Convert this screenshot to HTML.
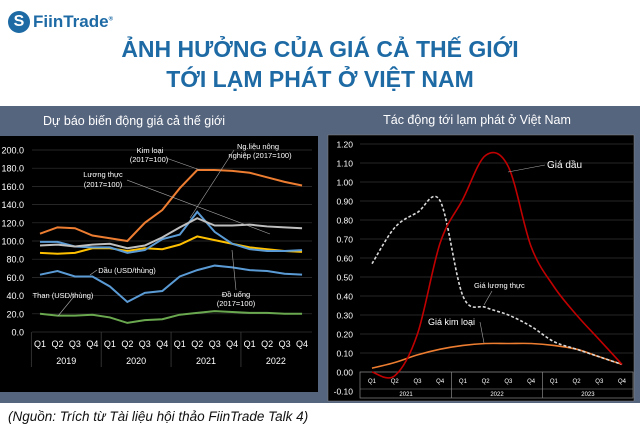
<!DOCTYPE html>
<html><head><meta charset="utf-8"><style>
body{margin:0;width:640px;height:436px;background:#fff;overflow:hidden;font-family:"Liberation Sans",sans-serif;position:relative}
.t{position:absolute;left:0;width:640px;text-align:center;color:#1d6aa5;font-weight:bold;font-size:23px}
</style></head><body>
<div style="position:absolute;left:8px;top:11px;width:22px;height:22px;border-radius:50%;background:#1d6aa5;color:#fff;font-weight:bold;font-size:16px;text-align:center;line-height:22px">S</div>
<div style="position:absolute;left:33px;top:12px;color:#1d6aa5;font-weight:bold;font-size:17px">FiinTrade<sup style="font-size:6px">®</sup></div>
<div class="t" style="top:36px">ẢNH HƯỞNG CỦA GIÁ CẢ THẾ GIỚI</div>
<div class="t" style="top:66px">TỚI LẠM PHÁT Ở VIỆT NAM</div>
<div style="position:absolute;left:8px;top:409px;font-style:italic;font-size:13.5px;color:#111">(Nguồn: Trích từ Tài liệu hội thảo FiinTrade Talk 4)</div>
<svg id="s" width="640" height="436" style="position:absolute;left:0;top:0" font-family="Liberation Sans, sans-serif">
<rect x="0" y="106" width="640" height="297" fill="#56657e"/>
<rect x="0" y="136" width="318" height="256" fill="#000"/>
<rect x="328" y="135" width="306" height="266" fill="#000" stroke="#888" stroke-width="0.5"/>
<text x="134" y="125" fill="#fff" font-size="12.5" text-anchor="middle">Dự báo biến động giá cả thế giới</text>
<text x="477" y="124" fill="#fff" font-size="12.5" text-anchor="middle">Tác động tới lạm phát ở Việt Nam</text>
<g id="L"></g><g id="R"></g>
</svg>
<script>
const quarters=["Q1","Q2","Q3","Q4"];
const yearsL=["2019","2020","2021","2022"];
const yearsR=["2021","2022","2023"];
const ticksL=[0,20,40,60,80,100,120,140,160,180,200];
const ticksR=[-0.1,0,0.1,0.2,0.3,0.4,0.5,0.6,0.7,0.8,0.9,1.0,1.1,1.2];
const kimLoai=[108,115,114,106,103,100,120,134,158,178,178,177,175,170,165,161];
const luongThuc=[95,96,94,96,97,92,95,104,115,125,117,117,118,116,115,114];
const ngLieu=[99,99,94,93,93,87,90,102,107,132,110,97,91,89,89,90];
const doUong=[87,86,87,92,92,89,92,91,96,105,101,97,93,91,89,88];
const dau=[63,67,61,61,50,33,43,45,61,68,73,71,68,67,64,63];
const than=[20,18,18,19,16,10,13,14,19,21,23,22,21,21,20,20];
const giaDau=[0.00,-0.02,0.20,0.68,0.91,1.14,1.08,0.66,0.45,0.30,0.17,0.04];
const giaLuongThuc=[0.57,0.76,0.84,0.90,0.40,0.34,0.30,0.24,0.16,0.12,0.08,0.04];
const giaKimLoai=[0.02,0.05,0.09,0.12,0.14,0.15,0.15,0.15,0.14,0.12,0.08,0.04];
const NS="http://www.w3.org/2000/svg";
function mk(p,t,a,txt){const e=document.createElementNS(NS,t);for(const k in a)e.setAttribute(k,a[k]);if(txt!=null)e.textContent=txt;p.appendChild(e);return e;}
const L=document.getElementById('L'),R=document.getElementById('R');
const xL=i=>40+i*17.47, yL=v=>332-v*0.91;
const xR=i=>372+i*22.73, yR=v=>372-v*190;
// left axes
ticksL.forEach(v=>{
 const g=mk(L,'line',{x1:32,x2:312,y1:yL(v),y2:yL(v),stroke:'#333','stroke-width':0.7});
 
 
 const t=mk(L,'text',{x:24,y:yL(v)+3.5,fill:'#fff','font-size':9,'text-anchor':'end'},v.toFixed(1));
 
 
});
yearsL.forEach((y,yi)=>{
 quarters.forEach((q,qi)=>{const t=mk(L,'text',{x:xL(yi*4+qi),y:347,fill:'#fff','font-size':9,'text-anchor':'middle'},q);
 
 });
 const t=mk(L,'text',{x:(xL(yi*4)+xL(yi*4+3))/2,y:364,fill:'#fff','font-size':9,'text-anchor':'middle'},y);
 
 
 const s=mk(L,'line',{x1:xL(yi*4)-8.7,x2:xL(yi*4)-8.7,y1:332,y2:367,stroke:'#444','stroke-width':0.7});
 
 
});
function polyL(arr,col,name){const p=mk(L,'polyline',{points:arr.map((v,i)=>xL(i)+','+yL(v)).join(' '),fill:'none',stroke:col,'stroke-width':2});
 
 }
polyL(than,'#6aa84f','series-than');
polyL(dau,'#5b9bd5','series-dau');
polyL(doUong,'#ffc000','series-do-uong');
polyL(ngLieu,'#5b9bd5','series-ng-lieu');
polyL(luongThuc,'#bfbfbf','series-luong-thuc');
polyL(kimLoai,'#ed7d31','series-kim-loai');
const lblL=[["Kim loại",150,153],["(2017=100)",149,162],["Lương thực",103,177],["(2017=100)",103,187],["Ng.liệu nông",258,149],["nghiệp (2017=100)",260,158],["Dầu (USD/thùng)",127,273],["Than (USD/thùng)",63,298],["Đồ uống",236,297],["(2017=100)",236,306]];
lblL.forEach(a=>{const t=mk(L,'text',{x:a[1],y:a[2],fill:'#fff','font-size':7.5,'text-anchor':'middle'},a[0]);
 
 });
[[166,158,200,170],[127,180,270,234],[234,150,190,218],[97,270,90,275],[76,294,58,316],[236,290,232,250]].forEach(c=>{const l=mk(L,'line',{x1:c[0],y1:c[1],x2:c[2],y2:c[3],stroke:'#aaa','stroke-width':0.6});
 
 });
// right axes
ticksR.forEach(v=>{
 if(v>=0){const g=mk(R,'line',{x1:360,x2:633,y1:yR(v),y2:yR(v),stroke:'#333','stroke-width':0.7});
 
 }
 const t=mk(R,'text',{x:353,y:yR(v)+3.5,fill:'#fff','font-size':8.5,'text-anchor':'end'},v.toFixed(2));
 
 
});
const bx=mk(R,'rect',{x:360,y:372,width:273,height:26,fill:'none',stroke:'#888','stroke-width':0.7});


yearsR.forEach((y,yi)=>{
 quarters.forEach((q,qi)=>{const t=mk(R,'text',{x:xR(yi*4+qi),y:383,fill:'#fff','font-size':6,'text-anchor':'middle'},q);
 
 });
 const t=mk(R,'text',{x:(xR(yi*4)+xR(yi*4+3))/2,y:396,fill:'#fff','font-size':6,'text-anchor':'middle'},y);
 
 
 if(yi>0){const s=mk(R,'line',{x1:xR(yi*4)-11.4,x2:xR(yi*4)-11.4,y1:372,y2:398,stroke:'#888','stroke-width':0.7});
 
 }
});
const bl=mk(R,'line',{x1:360,x2:633,y1:389,y2:389,stroke:'#888','stroke-width':0.5});


function smooth(pts){let d='M'+pts[0][0]+','+pts[0][1];for(let i=0;i<pts.length-1;i++){const p0=pts[i-1]||pts[i],p1=pts[i],p2=pts[i+1],p3=pts[i+2]||p2;
 d+=' C'+(p1[0]+(p2[0]-p0[0])/6)+','+(p1[1]+(p2[1]-p0[1])/6)+' '+(p2[0]-(p3[0]-p1[0])/6)+','+(p2[1]-(p3[1]-p1[1])/6)+' '+p2[0]+','+p2[1];}return d;}
function curveR(arr,col,name,dash){const p=mk(R,'path',{d:smooth(arr.map((v,i)=>[xR(i),yR(v)])),fill:'none',stroke:col,'stroke-width':1.6});
 if(dash)p.setAttribute('stroke-dasharray','3,2');
 
 }
curveR(giaKimLoai,'#ed7d31','series-gia-kim-loai');
curveR(giaLuongThuc,'#d9d9d9','series-gia-luong-thuc',true);
curveR(giaDau,'#c00000','series-gia-dau');
[["Giá dầu",547,168,10],["Giá lương thực",474,288,7.5],["Giá kim loại",428,325,9]].forEach(a=>{const t=mk(R,'text',{x:a[1],y:a[2],fill:'#fff','font-size':a[3]},a[0]);
 
 });
[[545,165,508,172],[492,291,484,305],[480,322,484,343]].forEach(c=>{const l=mk(R,'line',{x1:c[0],y1:c[1],x2:c[2],y2:c[3],stroke:'#aaa','stroke-width':0.6});
 
 });
</script>
</body></html>
